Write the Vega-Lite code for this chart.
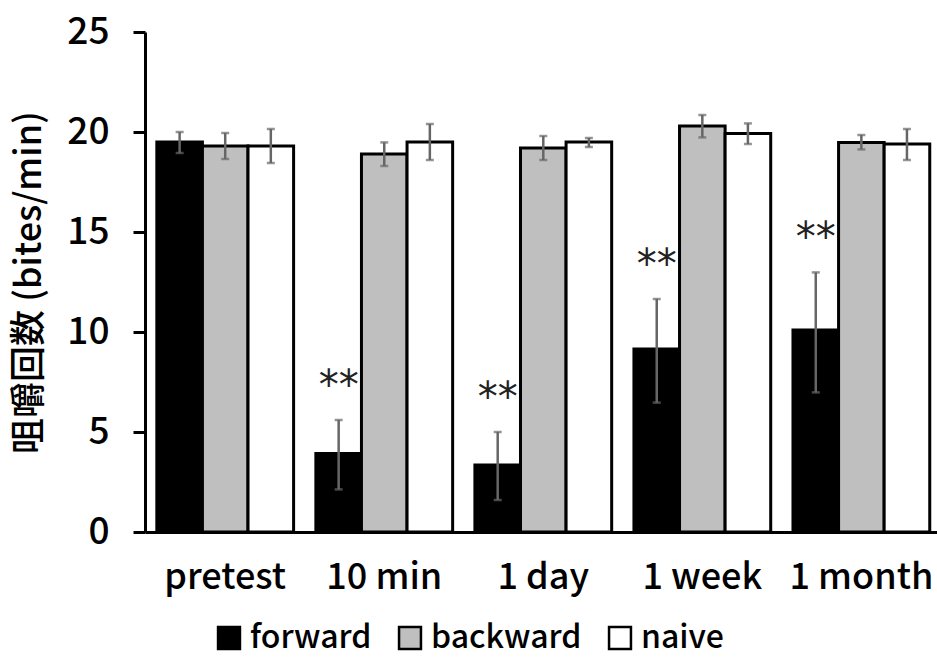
{
  "$schema": "https://vega.github.io/schema/vega-lite/v6.json",
  "width": 792,
  "height": 500,
  "autosize": "none",
  "padding": {"left": 145, "top": 32, "right": 0, "bottom": 126},
  "background": "white",
  "config": {
    "font": "Noto Sans CJK JP",
    "view": {"stroke": null}
  },
  "data": {
    "values": [
      {"time": "pretest", "group": "forward", "value": 19.5, "lo": 18.95, "hi": 20.0, "sig": ""},
      {"time": "pretest", "group": "backward", "value": 19.3, "lo": 18.65, "hi": 19.95, "sig": ""},
      {"time": "pretest", "group": "naive", "value": 19.3, "lo": 18.45, "hi": 20.15, "sig": ""},
      {"time": "10 min", "group": "forward", "value": 3.93, "lo": 2.13, "hi": 5.6, "sig": "**"},
      {"time": "10 min", "group": "backward", "value": 18.9, "lo": 18.3, "hi": 19.48, "sig": ""},
      {"time": "10 min", "group": "naive", "value": 19.5, "lo": 18.6, "hi": 20.4, "sig": ""},
      {"time": "1 day", "group": "forward", "value": 3.35, "lo": 1.6, "hi": 5.0, "sig": "**"},
      {"time": "1 day", "group": "backward", "value": 19.2, "lo": 18.6, "hi": 19.8, "sig": ""},
      {"time": "1 day", "group": "naive", "value": 19.5, "lo": 19.25, "hi": 19.7, "sig": ""},
      {"time": "1 week", "group": "forward", "value": 9.15, "lo": 6.47, "hi": 11.65, "sig": "**"},
      {"time": "1 week", "group": "backward", "value": 20.3, "lo": 19.73, "hi": 20.85, "sig": ""},
      {"time": "1 week", "group": "naive", "value": 19.93, "lo": 19.4, "hi": 20.43, "sig": ""},
      {"time": "1 month", "group": "forward", "value": 10.1, "lo": 6.98, "hi": 12.98, "sig": "**"},
      {"time": "1 month", "group": "backward", "value": 19.48, "lo": 19.13, "hi": 19.85, "sig": ""},
      {"time": "1 month", "group": "naive", "value": 19.4, "lo": 18.6, "hi": 20.15, "sig": ""}
    ]
  },
  "encoding": {
    "x": {
      "field": "time",
      "type": "nominal",
      "sort": ["pretest", "10 min", "1 day", "1 week", "1 month"],
      "scale": {"paddingInner": 0.14, "paddingOuter": 0.06, "align": 0.62},
      "axis": {
        "title": null,
        "labelAngle": 0,
        "labelFontSize": 36,
        "labelFontWeight": 500,
        "labelColor": "black",
        "labelPadding": 28,
        "ticks": false,
        "domainColor": "black",
        "domainWidth": 3
      }
    },
    "xOffset": {
      "field": "group",
      "type": "nominal",
      "sort": ["forward", "backward", "naive"],
      "scale": {"paddingInner": 0, "paddingOuter": 0}
    }
  },
  "layer": [
    {
      "mark": {"type": "bar", "stroke": "black", "strokeWidth": 3},
      "encoding": {
        "y": {
          "field": "value",
          "type": "quantitative",
          "scale": {"domain": [0, 25], "nice": false},
          "axis": {
            "values": [0, 5, 10, 15, 20, 25],
            "grid": false,
            "title": "咀嚼回数 (bites/min)",
            "titleFontSize": 36,
            "titleFontWeight": 500,
            "titleColor": "black",
            "titlePadding": 18,
            "labelFontSize": 37,
            "labelFontWeight": 500,
            "labelColor": "black",
            "labelPadding": 24,
            "tickSize": 12,
            "tickWidth": 3,
            "tickColor": "black",
            "domainColor": "black",
            "domainWidth": 3
          }
        },
        "fill": {
          "field": "group",
          "type": "nominal",
          "sort": ["forward", "backward", "naive"],
          "scale": {"domain": ["forward", "backward", "naive"], "range": ["#000000", "#bfbfbf", "#ffffff"]},
          "legend": {
            "title": null,
            "orient": "none",
            "direction": "horizontal",
            "legendX": 68,
            "legendY": 590,
            "symbolType": "square",
            "symbolSize": 480,
            "symbolStrokeColor": "black",
            "symbolStrokeWidth": 2.5,
            "labelFontSize": 32,
            "labelFontWeight": 500,
            "labelColor": "black",
            "labelOffset": 5,
            "columnPadding": 22
          }
        }
      }
    },
    {
      "mark": {"type": "rule", "color": "#666666", "strokeWidth": 2.5},
      "encoding": {
        "y": {"field": "lo", "type": "quantitative", "scale": {"domain": [0, 25], "nice": false}},
        "y2": {"field": "hi"}
      }
    },
    {
      "mark": {"type": "tick", "color": "#666666", "thickness": 2.5, "size": 8},
      "encoding": {
        "y": {"field": "lo", "type": "quantitative", "scale": {"domain": [0, 25], "nice": false}}
      }
    },
    {
      "mark": {"type": "tick", "color": "#666666", "thickness": 2.5, "size": 8},
      "encoding": {
        "y": {"field": "hi", "type": "quantitative", "scale": {"domain": [0, 25], "nice": false}}
      }
    },
    {
      "transform": [{"filter": "datum.sig != ''"}],
      "mark": {"type": "text", "fontSize": 40, "font": "DejaVu Sans", "color": "#222222", "baseline": "middle", "dy": -33},
      "encoding": {
        "y": {"field": "hi", "type": "quantitative", "scale": {"domain": [0, 25], "nice": false}},
        "text": {"field": "sig"}
      }
    }
  ]
}
